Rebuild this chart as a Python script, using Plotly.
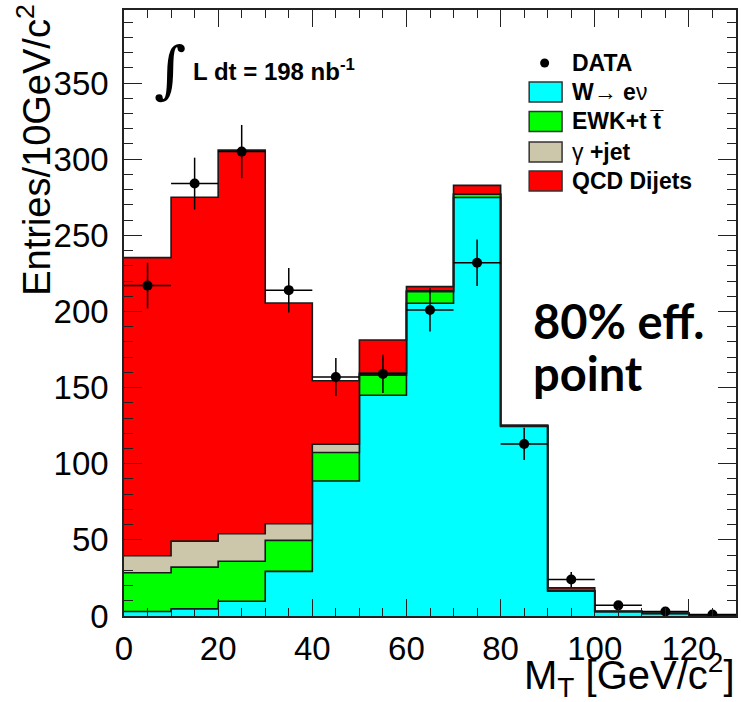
import plotly.graph_objects as go

# Transverse-mass bins (10 GeV/c^2 wide)
bin_edges = [0, 10, 20, 30, 40, 50, 60, 70, 80, 90, 100, 110, 120, 130]
bin_centers = [5, 15, 25, 35, 45, 55, 65, 75, 85, 95, 105, 115, 125]

# Stacked MC contributions (entries per bin)
w_enu = [3.0, 4.7, 9.7, 29.3, 88.7, 145.0, 205.4, 274.9, 124.5, 16.3, 2.8, 1.6, 0.3]
ewk_tt = [25.4, 27.4, 26.3, 20.4, 18.7, 13.2, 7.6, 2.1, 0.5, 0.3, 0.2, 0.1, 0.0]
gamma_jet = [11.2, 17.1, 18.0, 10.9, 5.4, 1.3, 0.5, 0.2, 0.0, 0.0, 0.0, 0.0, 0.0]
qcd_dijets = [195.8, 225.8, 252.0, 145.0, 41.7, 21.8, 2.8, 5.6, 0.3, 1.9, 0.2, 0.1, 0.0]

# Observed data with statistical errors
data_counts = [217, 284, 305, 214, 157, 159, 201, 232, 113, 24, 7, 3, 1]
data_errors = [15.0, 17.0, 17.5, 14.6, 12.5, 12.6, 14.2, 15.2, 10.6, 4.9, 2.6, 1.7, 1.0]

x_tick_values = [0, 20, 40, 60, 80, 100, 120]

W, H = 741, 702
ML, MR, MT, MB = 124, 3, 10, 86
PW, PH = W - ML - MR, H - MT - MB


def px(x):
    return (x - ML) / PW


def py(y):
    return (H - MB - y) / PH


def step(values):
    # close the last bin so the hv step reaches the right edge
    return list(values) + [values[-1]]


fig = go.Figure()

components = [
    ("W→ eν", w_enu, "#00FFFF"),
    ("EWK+tt̄", ewk_tt, "#00FF00"),
    ("γ +jet", gamma_jet, "#CCC6AA"),
    ("QCD Dijets", qcd_dijets, "#FF0000"),
]
for name, vals, col in components:
    fig.add_trace(go.Scatter(
        x=bin_edges, y=step(vals), name=name,
        mode="lines", line=dict(shape="hv", color="#1a1a1a", width=1.6),
        stackgroup="mc", fillcolor=col, showlegend=False,
    ))

fig.add_trace(go.Scatter(
    x=bin_centers, y=data_counts, mode="markers", name="DATA",
    marker=dict(color="black", size=10, symbol="circle"),
    error_y=dict(type="data", array=data_errors, width=0, thickness=1.5, color="black"),
    error_x=dict(type="constant", value=5, width=0, thickness=1.5, color="black"),
    showlegend=False,
))

tick_font = dict(family="Liberation Sans, Arial, sans-serif", size=33, color="black")

fig.update_layout(
    width=W, height=H,
    margin=dict(l=ML, r=MR, t=MT, b=MB, pad=0),
    paper_bgcolor="white", plot_bgcolor="white",
    showlegend=False,
    xaxis=dict(
        range=[0, 130], tickvals=x_tick_values, ticks="inside", ticklen=17,
        tickwidth=1.2, tickcolor="#222", showgrid=False, zeroline=False,
        showline=True, linecolor="#222", linewidth=1.5, mirror="ticks",
        tickfont=tick_font, ticklabelstandoff=3,
        minor=dict(dtick=5, ticks="inside", ticklen=8, tickwidth=1.2, tickcolor="#222", showgrid=False),
    ),
    yaxis=dict(
        range=[0, 398], dtick=50, ticks="inside", ticklen=18,
        tickwidth=1.2, tickcolor="#222", showgrid=False, zeroline=False,
        showline=True, linecolor="#222", linewidth=1.5, mirror="ticks",
        tickfont=tick_font, ticklabelstandoff=7,
        minor=dict(dtick=10, ticks="inside", ticklen=9, tickwidth=1.2, tickcolor="#222", showgrid=False),
    ),
)

ann = []
# axis titles
ann.append(dict(
    text="Entries/10GeV/c<sup>2</sup>", xref="paper", yref="paper",
    x=px(34), y=py(3), xanchor="center", yanchor="top", textangle=-90,
    showarrow=False, font=dict(family="Liberation Sans, Arial", size=38, color="black"),
))
ann.append(dict(
    text="M<sub>T</sub> [GeV/c<sup>2</sup>]", xref="paper", yref="paper",
    x=px(739), y=py(645), xanchor="right", yanchor="top",
    showarrow=False, font=dict(family="Liberation Sans, Arial", size=40, color="black"),
))
# luminosity label
ann.append(dict(
    text="∫", xref="paper", yref="paper", x=px(170), y=py(70),
    xanchor="center", yanchor="middle", showarrow=False,
    font=dict(family="DejaVu Serif, serif", size=62, color="black"),
))
ann.append(dict(
    text="<b>L dt = 198 nb<sup>-1</sup></b>", xref="paper", yref="paper",
    x=px(191), y=py(70), xanchor="left", yanchor="middle", showarrow=False,
    font=dict(family="Liberation Sans, Arial", size=24, color="black"),
))
# working point note
ann.append(dict(
    text="<b>80% eff.</b>", xref="paper", yref="paper",
    x=px(532), y=py(321), xanchor="left", yanchor="middle", showarrow=False,
    font=dict(family="Lato, sans-serif", size=47, color="black"),
))
ann.append(dict(
    text="<b>point</b>", xref="paper", yref="paper",
    x=px(532), y=py(373), xanchor="left", yanchor="middle", showarrow=False,
    font=dict(family="Lato, sans-serif", size=47, color="black"),
))

# legend
leg_font = dict(family="Liberation Sans, Arial", size=23, color="black")
shapes = []
ann.append(dict(
    text="<b>DATA</b>", xref="paper", yref="paper", x=px(571), y=py(63),
    xanchor="left", yanchor="middle", showarrow=False, font=leg_font,
))
shapes.append(dict(
    type="circle", xref="paper", yref="paper",
    x0=px(541.5), x1=px(550.5), y0=py(58.5), y1=py(67.5),
    fillcolor="black", line=dict(color="black", width=0),
))
leg_rows = [
    ("<b>W→ e</b>ν", "#00FFFF", 92),
    ("<b>EWK+t t̅</b>", "#00FF00", 121.5),
    ("γ <b>+jet</b>", "#CCC6AA", 152),
    ("<b>QCD Dijets</b>", "#FF0000", 181),
]
for label, col, yc in leg_rows:
    shapes.append(dict(
        type="rect", xref="paper", yref="paper",
        x0=px(530.5), x1=px(563.5), y0=py(yc - 10), y1=py(yc + 10),
        fillcolor=col, line=dict(color="#333", width=1.5),
    ))
    ann.append(dict(
        text=label, xref="paper", yref="paper", x=px(571), y=py(yc),
        xanchor="left", yanchor="middle", showarrow=False, font=leg_font,
    ))

fig.update_layout(annotations=ann, shapes=shapes)
fig.write_html("out.html")
